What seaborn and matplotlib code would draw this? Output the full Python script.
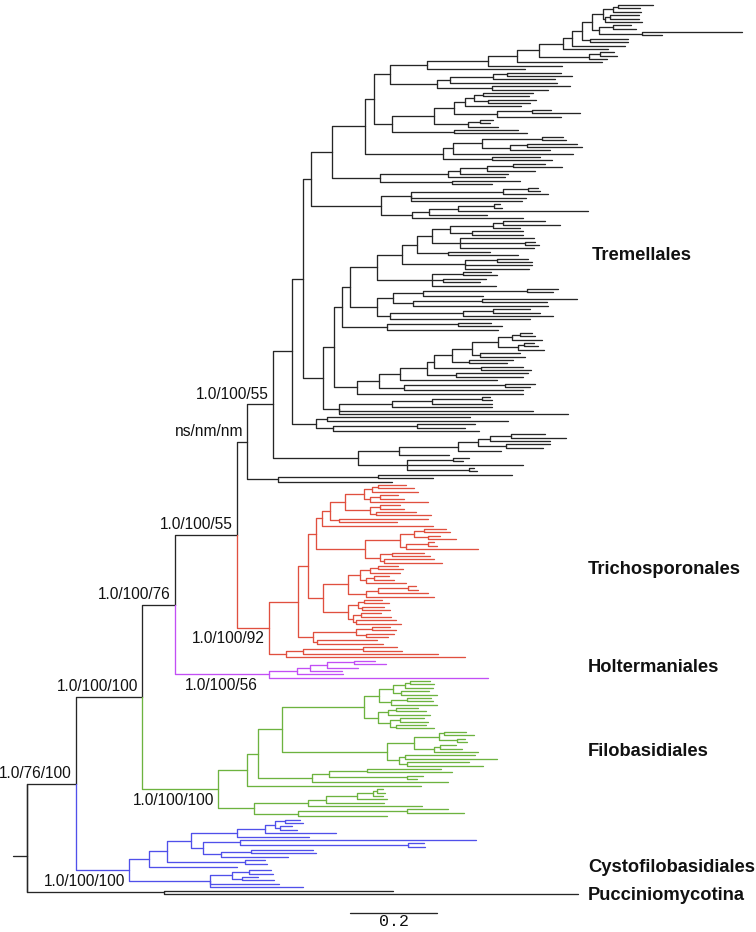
import pandas as pd
import matplotlib.pyplot as plt
import seaborn as sns

# Branch lengths (87 units = 0.2 subst./site)
LEN_UNIT = 0.2 / 87
SCALE_BAR = 0.2

# ---- Tremellales ----
T_TOP_TIP = "((((:35,:22):5,:28):10,((:29,:29):5,:37):2):11,((:18,:23):14,(:100,:20):43):7)"
T_TOP_LADDER = f"(((((({T_TOP_TIP}:10,(:38,:38):8):10,:53):9,:45):24,((:14,:17):11,:18):50):22,:85):29,:74)"
T_TOP_SIDE = "((((:54,:65):14,:62):43,:107):13,(:78,:56):55)"
T_N1 = f"(({T_TOP_LADDER}:61,:98):37,{T_TOP_SIDE}:47)"
T_N2 = "((((((:50,:46):9,(:48,:42):14):9,:56):11,((:19,:48):35,:64):43):20,((:13,:10):12,:30):34):42,(:64,:73):62)"
T_O = "((((:21,:24):60,((:50,:55):17,:40):28):29,:120):10,(:48,:60):49)"
T_M = "(((((:32,:49):26,:48):27,:48):12,:57):68,(:68,:40):72)"
T_K = "((((:10,:12):25,:45):92,:115,:111):30,((((:6,:8):36,:130):29,:58):17,:111):31)"
T_H = f"(((({T_N1}:16,{T_N2}:18):9,{T_O}:78):33,{T_M}:48):21,{T_K}:70)"

T_450 = "(((:42,:57):10,:27):43,(:51,:51):22)"
T_460 = "(:74,(:10,:14):65,:74)"
T_402 = f"((({T_450}:18,{T_460}:28):15,(:42,:70):31):15,((:31,:35):32,:67,:64):63)"
T_I1A1T = f"({T_402}:25,((:28,:34):31,(:43,:37):11,:64):55)"
T_I1A1B = "((((:31,:26):104,:60):30,((:95,:65):69,:135):20):16,(((:37,:47):30,:90):73,:140):13)"
T_I1A = f"(({T_I1A1T}:27,{T_I1A1B}:27):8,((:33,:44):71,:111):45)"
T_I1B_TIP = "(((:12,:15):8,:30):14,((:10,:14):6,:26):20)"
T_I1B = f"((((((({T_I1B_TIP}:26,(:40,:45):8):20,(:44,:38):17):18,(:42,:50):47):7,(:72,:67):29):27,:97):21,((:30,:25):101,:119):25):22,:166)"
T_I2 = "((((:8,:10):50,:60):40,:100):53,:194,:229)"
T_I = f"(({T_I1A}:8,{T_I1B}:23):11,{T_I2}:16)"
T_FB = "((:143,:181):11,((:58,:48):84,:146):17)"
T_GB1 = "(((((:34,:55):21,:60):12,(:44,:37):28):20,:43):59,:50)"
T_GB2 = "((:16,:10):46,:116,(:5,:8):62)"
T_P2 = "((:134,:55):100,:114)"
TREMELLALES = f"(((({T_H}:8,{T_I}:20):11,{T_FB}:24):19,({T_GB1}:41,{T_GB2}:49):85)E:26,{T_P2}:31)"

# ---- Trichosporonales ----
R_UP_A4 = "(((:28,:36):6,:46):8,((:18,:24):10,:58):6)"
R_UP_A5 = "((:20,:24):10,(:40,:55):6)"
R_UP = f"((({R_UP_A4}:19,{R_UP_A5}:25):15,(:89,:58):9):8,:111)"
R_MID = "((((:22,:26):10,(:12,:28):14):14,((:6,:9):22,:72):6):35,((:32,:38):12,(:50,:58):4):15)"
R_LOW_A = "(((:20,:25):8,:30):10,((:15,:20):8,:40):6)"
R_LOW_B = "(((:8,:10):30,:50):12,:68)"
R_LOW_C = "(((:18,:25):6,(:22,:28):4):10,((:20,:30):8,(:40,:45):3):5)"
R_LOW = f"(({R_LOW_A}:12,{R_LOW_B}:18):25,{R_LOW_C}:25)"
R_BOT = "(((:18,:24):16,(:28,:22):10):43,(:60,:66):4)"
R_BASE = "(((:34,:39):60,:135):17,:179)"
TRICHOSPORONALES = f"(((({R_UP}:6,{R_MID}:49):8,{R_LOW}:15):10,{R_BOT}:15):29,{R_BASE}:17)"

# ---- Holtermaniales ----
HOLTERMANIALES = "(((((:21,:32):27,:31):17,:32):13,:46):28,:219)"

# ---- Filobasidiales ----
F_TOP = "(((((:20,:24):5,:28):12,(:28,:36):8):14,((:24,:26):16,:46):12):15,(((:22,:30):8,:42):10,((:24,:28):10,(:30,:38):6):12):14)"
F_MID = "((((:22,:30):5,(:8,:10):18):25,((:16,:22):6,:44):20):27,((:70,:92):6,(:62,:76):8):12)"
F_LOW = "(((:74,:85):38,(:16,:10):78):17,:136)"
F_BOT = "((((((:6,:8):4,:10):16,:30):31,:58):18,:114):54,((:41,:57):109,:89):44)"
FILOBASIDIALES = f"(((({F_TOP}:82,{F_MID}:105):24,{F_LOW}:54):11,:174):29,{F_BOT}:36)"

# ---- Cystofilobasidiales ----
C_TOP = "((((:15,:18):10,(:12,:17):5):10,:71):28,:72)"
C_MID = "((:236,(:16,:17):168):37,((:62,:65):30,:67):18)"
C_LOW = "(((:22,:24):17,(:16,:32):10):22,:69,:93)"
CYSTOFILOBASIDIALES = f"(((({C_TOP}:46,{C_MID}:12):24,(:20,:22):78):18,:88):20,{C_LOW}:81)"

# ---- outgroup ----
PUCCINIOMYCOTINA = "(:229,:414)"

# backbone joining the orders, root stub length at the end
BACKBONE = ("(((((Tremellales:10,Trichosporonales:32)n4:62,Holtermaniales:94)n3:33,"
            "Filobasidiales:76)n2:66,Cystofilobasidiales:53)n1:49,Pucciniomycotina:137):14;")

CLADES = {
    "Tremellales": TREMELLALES,
    "Trichosporonales": TRICHOSPORONALES,
    "Holtermaniales": HOLTERMANIALES,
    "Filobasidiales": FILOBASIDIALES,
    "Cystofilobasidiales": CYSTOFILOBASIDIALES,
    "Pucciniomycotina": PUCCINIOMYCOTINA,
}

SUPPORT_NODES = ["n1", "n2", "n3", "n4", "Tremellales", "E",
                 "Trichosporonales", "Holtermaniales", "Filobasidiales", "Cystofilobasidiales"]
SUPPORT_TEXT = ["1.0/76/100", "1.0/100/100", "1.0/100/76", "1.0/100/55", "ns/nm/nm", "1.0/100/55",
                "1.0/100/92", "1.0/100/56", "1.0/100/100", "1.0/100/100"]
SUPPORT_SIDE = ["above"] * 6 + ["below"] * 4

CLADE_NAMES = ["Tremellales", "Trichosporonales", "Holtermaniales",
               "Filobasidiales", "Cystofilobasidiales", "Pucciniomycotina"]

PALETTE = {
    "backbone": "#262626",
    "Tremellales": "#262626",
    "Trichosporonales": "#e0503f",
    "Holtermaniales": "#c24ff5",
    "Filobasidiales": "#6db33f",
    "Cystofilobasidiales": "#5050ea",
    "Pucciniomycotina": "#262626",
}


def parse(s):
    s = s if s.endswith(";") else s + ";"
    pos = 0

    def read():
        nonlocal pos
        kids = []
        if s[pos] == "(":
            pos += 1
            kids.append(read())
            while s[pos] == ",":
                pos += 1
                kids.append(read())
            pos += 1
        start = pos
        while s[pos] not in ":,();":
            pos += 1
        name = s[start:pos]
        length = 0.0
        if s[pos] == ":":
            pos += 1
            start = pos
            while s[pos] not in ",();":
                pos += 1
            length = float(s[start:pos])
        return {"name": name, "len": length, "kids": kids}

    return read()


def graft(node, group):
    if node["name"] in CLADES and not node["kids"]:
        node["kids"] = parse(CLADES[node["name"]])["kids"]
        group = node["name"]
    node["group"] = group
    for k in node["kids"]:
        graft(k, group)


leaves = []


def place(node, x0):
    node["x"] = x0 + node["len"] * LEN_UNIT
    for k in node["kids"]:
        place(k, node["x"])
    if node["kids"]:
        node["y"] = (node["kids"][0]["y"] + node["kids"][-1]["y"]) / 2
    else:
        node["y"] = len(leaves)
        leaves.append(node)


tree = parse(BACKBONE)
graft(tree, "backbone")
place(tree, -tree["len"] * LEN_UNIT)

# the root stub sits at the mean of the ingroup node and the outgroup tips
ingroup, outgroup = tree["kids"]
tree["y"] = (ingroup["y"] + sum(k["y"] for k in outgroup["kids"])) / (1 + len(outgroup["kids"]))

rows = []
by_name = {}


def walk(node, parent):
    if node["name"]:
        by_name[node["name"]] = node
    if parent is None:
        pts = [(node["x"] - node["len"] * LEN_UNIT, node["y"]), (node["x"], node["y"])]
    else:
        pts = [(parent["x"], parent["y"]), (parent["x"], node["y"]), (node["x"], node["y"])]
    seg = id(node)
    for x, y in pts:
        rows.append({"seg": seg, "x": x, "y": y, "group": node["group"]})
    for k in node["kids"]:
        walk(k, node)


walk(tree, None)
df = pd.DataFrame(rows)

sns.set_style("white")
plt.rcParams["font.family"] = ["Liberation Sans", "DejaVu Sans"]

fig = plt.figure(figsize=(7.56, 9.32), dpi=100)
ax = fig.add_axes([0, 0, 1, 1])

sns.lineplot(data=df, x="x", y="y", units="seg", estimator=None, hue="group",
             palette=PALETTE, sort=False, legend=False, linewidth=0.95, ax=ax)

# the root's vertical reaches the outgroup, whatever the stub height
ax.plot([0, 0], [ingroup["y"], outgroup["y"]], color=PALETTE["backbone"], linewidth=0.95)

# pixel layout of the original figure
px_per_unit = 87 / 0.2
root_px = 27
leaf_gap = (894 - 5) / (len(leaves) - 1)
ax.set_xlim(-root_px / px_per_unit, (756 - root_px) / px_per_unit)
ax.set_ylim((932 - 5) / leaf_gap, -5 / leaf_gap)
ax.axis("off")

# support values
for name, text, side in zip(SUPPORT_NODES, SUPPORT_TEXT, SUPPORT_SIDE):
    n = by_name[name]
    dx = -11 if name == "Holtermaniales" else -4
    dy = 10 if side == "above" else -11
    ax.annotate(text, (n["x"], n["y"]), xytext=(dx, dy), textcoords="offset pixels",
                ha="right", va="center", fontsize=11.2, color="#111111")

# clade names
label_px = [(592, 256), (588, 570), (588, 668), (588, 752), (588, 867), (588, 895)]
for name, (lx, ly) in zip(CLADE_NAMES, label_px):
    fig.text(lx / 756, 1 - ly / 932, name, ha="left", va="center",
             fontsize=13.2, fontweight="bold", color="#111111")

# scale bar
bar_x0 = (350 - root_px) / px_per_unit
bar_y = (913 - 5) / leaf_gap
ax.plot([bar_x0, bar_x0 + SCALE_BAR], [bar_y, bar_y], color="#262626", linewidth=0.95)
ax.annotate(f"{SCALE_BAR:.1f}", (bar_x0 + SCALE_BAR / 2, bar_y), xytext=(0, -9),
            textcoords="offset pixels", ha="center", va="center", fontsize=12,
            family="Liberation Mono", color="#111111")

fig.savefig("out.png", dpi=100)
